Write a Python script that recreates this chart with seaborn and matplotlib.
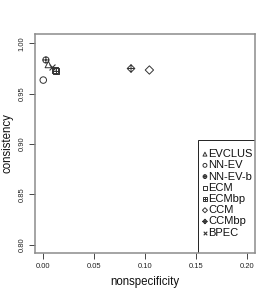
import numpy as np
import pandas as pd
import matplotlib
matplotlib.use("Agg")
import matplotlib.pyplot as plt
from matplotlib.path import Path
from matplotlib.patches import Rectangle
import seaborn as sns

methods = ["EVCLUS", "NN-EV", "NN-EV-b", "ECM", "ECMbp", "CCM", "CCMbp", "BPEC"]
nonspecificity = [0.005, 0.000, 0.0026, 0.0115, 0.0122, 0.104, 0.086, 0.0085]
consistency = [0.979, 0.9635, 0.9835, 0.9735, 0.9725, 0.9735, 0.975, 0.976]
xticks = [0.00, 0.05, 0.10, 0.15, 0.20]
yticks = [0.80, 0.85, 0.90, 0.95, 1.00]

sns.set_style("white")
plt.rcParams["font.family"] = ["Liberation Sans", "DejaVu Sans"]


def compound(*paths):
    return Path.make_compound_path(*paths)


plus = Path([[-1, 0], [1, 0], [0, -1], [0, 1]],
            [Path.MOVETO, Path.LINETO, Path.MOVETO, Path.LINETO])
circle = Path.unit_circle()
square = Path([[-1, -1], [1, -1], [1, 1], [-1, 1], [-1, -1]],
              [Path.MOVETO, Path.LINETO, Path.LINETO, Path.LINETO, Path.CLOSEPOLY])
diamond = Path([[0, 1], [1, 0], [0, -1], [-1, 0], [0, 1]],
               [Path.MOVETO, Path.LINETO, Path.LINETO, Path.LINETO, Path.CLOSEPOLY])
circ_plus = compound(circle, plus)
sq_plus = compound(square, plus)
dia_plus = compound(diamond, plus)

marker_map = {
    "EVCLUS": ("^", 22),
    "NN-EV": ("o", 22),
    "NN-EV-b": (circ_plus, 20),
    "ECM": ("s", 18),
    "ECMbp": (sq_plus, 18),
    "CCM": ("D", 18),
    "CCMbp": (dia_plus, 30),
    "BPEC": ("x", 18),
}

df = pd.DataFrame({"method": methods, "nonspecificity": nonspecificity,
                   "consistency": consistency})

W, H = 274, 297
fig = plt.figure(figsize=(W / 100, H / 100), dpi=100)
L, R, T, B = 35, 255, 34, 253
ax = fig.add_axes([L / W, 1 - B / H, (R - L) / W, (B - T) / H])

col = "#333333"
for m in methods:
    sub = df[df["method"] == m]
    mk, s = marker_map[m]
    if m == "BPEC":
        sns.scatterplot(data=sub, x="nonspecificity", y="consistency", marker=mk,
                        s=s, color=col, linewidth=0.8, label=m, ax=ax)
    else:
        sns.scatterplot(data=sub, x="nonspecificity", y="consistency", marker=mk,
                        s=s, facecolor="none", edgecolor=col, linewidth=0.7,
                        label=m, ax=ax)

ax.set_xlim(-0.0081, 0.2075)
ax.set_ylim(0.7916, 1.0093)
ax.set_xticks(xticks)
ax.set_xticklabels([f"{v:.2f}" for v in xticks])
ax.set_yticks(yticks)
ax.set_yticklabels([f"{v:.2f}" for v in yticks], rotation=90, va="center")
ax.tick_params(axis="both", which="major", direction="out", length=4,
               width=0.7, color="#444444", labelsize=5.5, labelcolor="#222222",
               bottom=True, left=True)
ax.tick_params(axis="x", pad=3.5)
ax.tick_params(axis="y", pad=3)
for sp in ax.spines.values():
    sp.set_color("#8c8c8c")
    sp.set_linewidth(1.1)
    sp.set_visible(True)
    sp.set_zorder(6)

ax.set_xlabel("nonspecificity", fontsize=8.3, color="#111111")
ax.set_ylabel("consistency", fontsize=8.3, color="#111111")
ax.xaxis.set_label_coords(0.5, -(282 - B) / (B - T))
ax.xaxis.label.set_va("center")
ax.yaxis.set_label_coords(-(L - 8) / (R - L), 0.5)
ax.yaxis.label.set_va("center")

# legend box (extends past the plot region and is clipped, as in the original)
box_x = (198 - L) / (R - L)
box_top = (B - 139.5) / (B - T)
ax.add_patch(Rectangle((box_x, -0.2), 0.5, box_top + 0.2, transform=ax.transAxes,
                       facecolor="white", edgecolor="#222222", linewidth=0.7,
                       clip_on=True, zorder=4))

leg = ax.legend(loc="upper left",
                bbox_to_anchor=(box_x, (B - 143.5) / (B - T)),
                fontsize=8, frameon=False, borderpad=0.5,
                labelspacing=0.11, handletextpad=0.15, handlelength=0.25,
                borderaxespad=0, markerscale=0.6)
leg.set_zorder(5)
for t in leg.get_texts():
    t.set_color("#111111")
for a in leg.findobj():
    if a is leg:
        continue
    a.set_clip_on(True)
    a.set_clip_box(ax.bbox)

fig.savefig("out.png", dpi=100)
